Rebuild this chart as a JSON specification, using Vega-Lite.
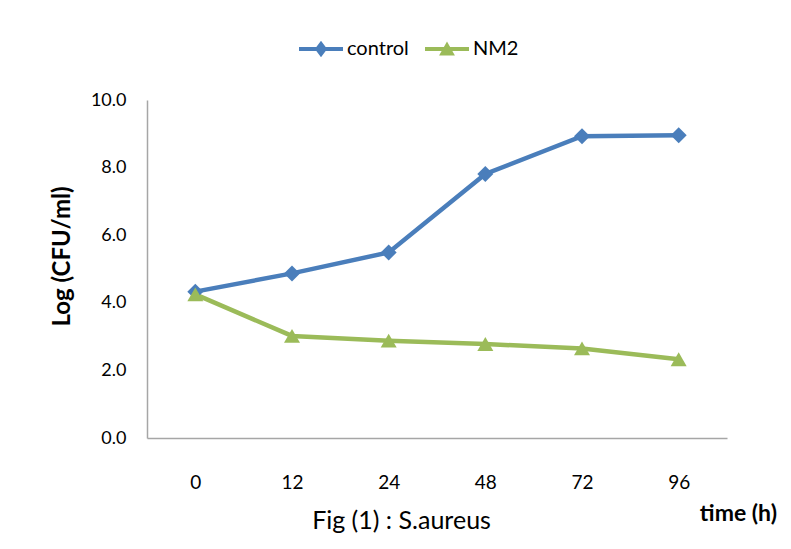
{
  "$schema": "https://vega.github.io/schema/vega-lite/v6.json",
  "width": 580,
  "height": 338,
  "autosize": "none",
  "padding": {"left": 147, "top": 100, "right": 64, "bottom": 111},
  "background": "white",
  "config": {
    "font": "Lato, sans-serif",
    "view": {"stroke": null},
    "axis": {"labelColor": "#000000", "titleColor": "#000000", "grid": false, "ticks": false},
    "legend": {
      "symbolSize": 1936,
      "symbolOpacity": 1,
      "symbolStrokeWidth": 0,
      "labelFontSize": 20,
      "labelColor": "#000000",
      "labelOffset": 4,
      "columnPadding": 16,
      "padding": 0
    }
  },
  "title": {
    "text": "time (h)",
    "orient": "bottom",
    "anchor": "end",
    "frame": "group",
    "fontSize": 23,
    "fontWeight": "bold",
    "color": "#000000",
    "dx": 50,
    "dy": -34
  },
  "data": {
    "values": [
      {"time": "0", "series": "control", "log": 4.33},
      {"time": "12", "series": "control", "log": 4.87},
      {"time": "24", "series": "control", "log": 5.49},
      {"time": "48", "series": "control", "log": 7.81},
      {"time": "72", "series": "control", "log": 8.93},
      {"time": "96", "series": "control", "log": 8.96},
      {"time": "0", "series": "NM2", "log": 4.25},
      {"time": "12", "series": "NM2", "log": 3.02},
      {"time": "24", "series": "NM2", "log": 2.88},
      {"time": "48", "series": "NM2", "log": 2.78},
      {"time": "72", "series": "NM2", "log": 2.65},
      {"time": "96", "series": "NM2", "log": 2.33}
    ]
  },
  "encoding": {
    "x": {
      "field": "time",
      "type": "ordinal",
      "sort": ["0", "12", "24", "48", "72", "96"],
      "scale": {"type": "point", "padding": 0.5},
      "axis": {
        "title": "Fig (1) : S.aureus",
        "labelAngle": 0,
        "labelFontSize": 19,
        "labelPadding": 35,
        "domainColor": "#a6a6a6",
        "domainWidth": 1.5,
        "titleFontSize": 25,
        "titleFontWeight": "normal",
        "titleX": 254,
        "titleY": 82,
        "titleBaseline": "middle",
        "titleAlign": "center"
      }
    },
    "y": {
      "field": "log",
      "type": "quantitative",
      "scale": {"domain": [0, 10]},
      "axis": {
        "title": "Log (CFU/ml)",
        "values": [0, 2, 4, 6, 8, 10],
        "format": ".1f",
        "labelPadding": 21,
        "labelFontSize": 18,
        "domainColor": "#a6a6a6",
        "domainWidth": 1.5,
        "titleFontSize": 24,
        "titleFontWeight": "bold",
        "titleX": -85,
        "titleY": 156,
        "titleAngle": -90,
        "titleBaseline": "middle",
        "titleAlign": "center"
      }
    },
    "color": {
      "field": "series",
      "type": "nominal",
      "scale": {"domain": ["control", "NM2"], "range": ["#4a7ebb", "#9bbb59"]},
      "legend": {
        "title": null,
        "orient": "none",
        "direction": "horizontal",
        "legendX": 152,
        "legendY": -73,
        "symbolSize": 1936
      }
    }
  },
  "layer": [
    {"mark": {"type": "line", "strokeWidth": 4.5}},
    {
      "transform": [{"filter": "datum.series === 'control'"}],
      "mark": {"type": "point", "shape": "diamond", "filled": true, "opacity": 1, "size": 256}
    },
    {
      "transform": [{"filter": "datum.series === 'NM2'"}],
      "mark": {"type": "point", "shape": "triangle-up", "filled": true, "opacity": 1, "size": 256}
    },
    {
      "mark": {"type": "point", "filled": true, "opacity": 0, "size": 1936},
      "encoding": {
        "shape": {
          "field": "series",
          "type": "nominal",
          "scale": {
            "domain": ["control", "NM2"],
            "range": [
              "M-1,-0.09H1V0.09H-1Z M0,-0.38L0.28,0L0,0.38L-0.28,0Z",
              "M-1,-0.09H1V0.09H-1Z M0,-0.34L0.36,0.3L-0.36,0.3Z"
            ]
          },
          "legend": {
            "title": null,
            "orient": "none",
            "direction": "horizontal",
            "legendX": 152,
            "legendY": -73,
            "symbolSize": 1936,
            "symbolOpacity": 1,
            "symbolStrokeWidth": 0
          }
        }
      }
    }
  ]
}
